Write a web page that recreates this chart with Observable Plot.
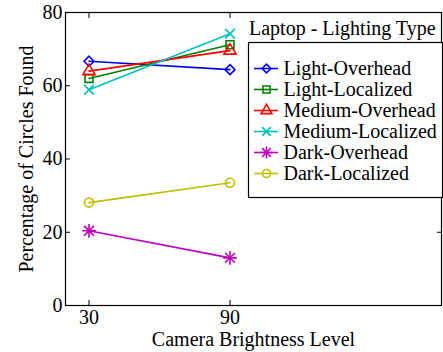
<!DOCTYPE html>
<html>
<head>
<meta charset="utf-8">
<script src="https://cdn.jsdelivr.net/npm/d3@7"></script>
<script src="https://cdn.jsdelivr.net/npm/@observablehq/plot@0.6"></script>
<style>
  html, body { margin: 0; padding: 0; background: #fff; }
  #chart { position: relative; width: 443px; height: 352px; font-family: "Liberation Serif", serif; }
  #chart svg { position: absolute; left: 0; top: 0; overflow: visible; }
  #legend-title { position: absolute; left: 249px; top: 16px; font-size: 20px; line-height: 24px; white-space: nowrap; color: #000; font-family: "Liberation Serif", serif; }
</style>
</head>
<body>
<div id="chart"></div>
<script>
// Camera brightness levels tested
const brightness = [30, 90];

// Laptop lighting conditions
const series = ["Light-Overhead", "Light-Localized", "Medium-Overhead", "Medium-Localized", "Dark-Overhead", "Dark-Localized"];

// Percentage of circles found at brightness 30 and 90
const lightOverhead = [66.7, 64.4];
const lightLocalized = [62.0, 71.2];
const mediumOverhead = [64.0, 69.6];
const mediumLocalized = [58.9, 74.2];
const darkOverhead = [20.4, 13.0];
const darkLocalized = [28.1, 33.5];

const yTicks = [0, 20, 40, 60, 80];
const xTicks = [30, 90];

const colors = ["#0000ff", "#008000", "#ff0000", "#00bfbf", "#bf00bf", "#bfbf00"];
const symbols = ["diamond2", "square", "triangle", "times", "plus", "circle"];

const values = [lightOverhead, lightLocalized, mediumOverhead, mediumLocalized, darkOverhead, darkLocalized];
const data = series.flatMap((s, i) => brightness.map((b, j) => ({series: s, x: b, y: values[i][j]})));

const font = "Liberation Serif, serif";
const colorScale = {domain: series, range: colors};
const symbolScale = {domain: series, range: symbols};

const chart = Plot.plot({
  width: 443,
  height: 352,
  marginLeft: 65,
  marginRight: 2,
  marginTop: 12,
  marginBottom: 47,
  style: {fontFamily: font, fontSize: "20px", color: "#000", background: "#fff"},
  x: {domain: [20, 180]},
  y: {domain: [0, 80]},
  color: colorScale,
  symbol: symbolScale,
  marks: [
    Plot.axisY({anchor: "left", ticks: yTicks, tickSize: -5, tickPadding: 8, label: "Percentage of Circles Found", labelAnchor: "center", labelArrow: "none", labelOffset: 47, fontSize: 20, fontFamily: font}),
    Plot.axisY({anchor: "right", ticks: yTicks, tickSize: -5, tickFormat: () => "", label: null}),
    Plot.axisX({anchor: "bottom", ticks: xTicks, tickSize: -5, tickPadding: 9, label: "Camera Brightness Level", labelAnchor: "center", labelArrow: "none", labelOffset: 40, fontSize: 20, fontFamily: font}),
    Plot.axisX({anchor: "top", ticks: xTicks, tickSize: -5, tickFormat: () => "", label: null}),
    Plot.line(data, {x: "x", y: "y", z: "series", stroke: "series", strokeWidth: 1.6}),
    Plot.dot(data, {x: "x", y: "y", stroke: "series", symbol: "series", r: 4.5, strokeWidth: 1.6, fill: "none"}),
    Plot.dot(data.filter(d => d.series === "Dark-Overhead"), {x: "x", y: "y", stroke: "series", symbol: () => "times", r: 4.5, strokeWidth: 1.6}),
    Plot.frame({stroke: "#000", strokeWidth: 1.2})
  ]
});

// Legend box for the lighting types
const legend = Plot.plot({
  width: 194,
  height: 155,
  margin: 0,
  style: {fontFamily: font, fontSize: "20px", color: "#000", background: "#fff"},
  x: {domain: [0, 194], range: [0, 194], axis: null},
  y: {type: "point", domain: series, range: [15, 141], axis: null},
  color: colorScale,
  symbol: symbolScale,
  marks: [
    Plot.ruleY(series, {y: d => d, x1: 6, x2: 30, stroke: d => d, strokeWidth: 1.6}),
    Plot.dot(series, {x: 18, y: d => d, stroke: d => d, symbol: d => d, r: 4, strokeWidth: 1.6, fill: "none"}),
    Plot.dot(series.filter(s => s === "Dark-Overhead"), {x: 18, y: d => d, stroke: d => d, symbol: () => "times", r: 4, strokeWidth: 1.6}),
    Plot.text(series, {x: 35, y: d => d, text: d => d, textAnchor: "start", fill: "#000", fontSize: 20, fontFamily: font}),
    Plot.frame({stroke: "#000", strokeWidth: 1.2})
  ]
});
legend.style.left = "248px";
legend.style.top = "42px";

const title = document.createElement("div");
title.id = "legend-title";
title.textContent = "Laptop - Lighting Type";

const root = document.getElementById("chart");
root.append(chart, title, legend);
</script>
</body>
</html>
